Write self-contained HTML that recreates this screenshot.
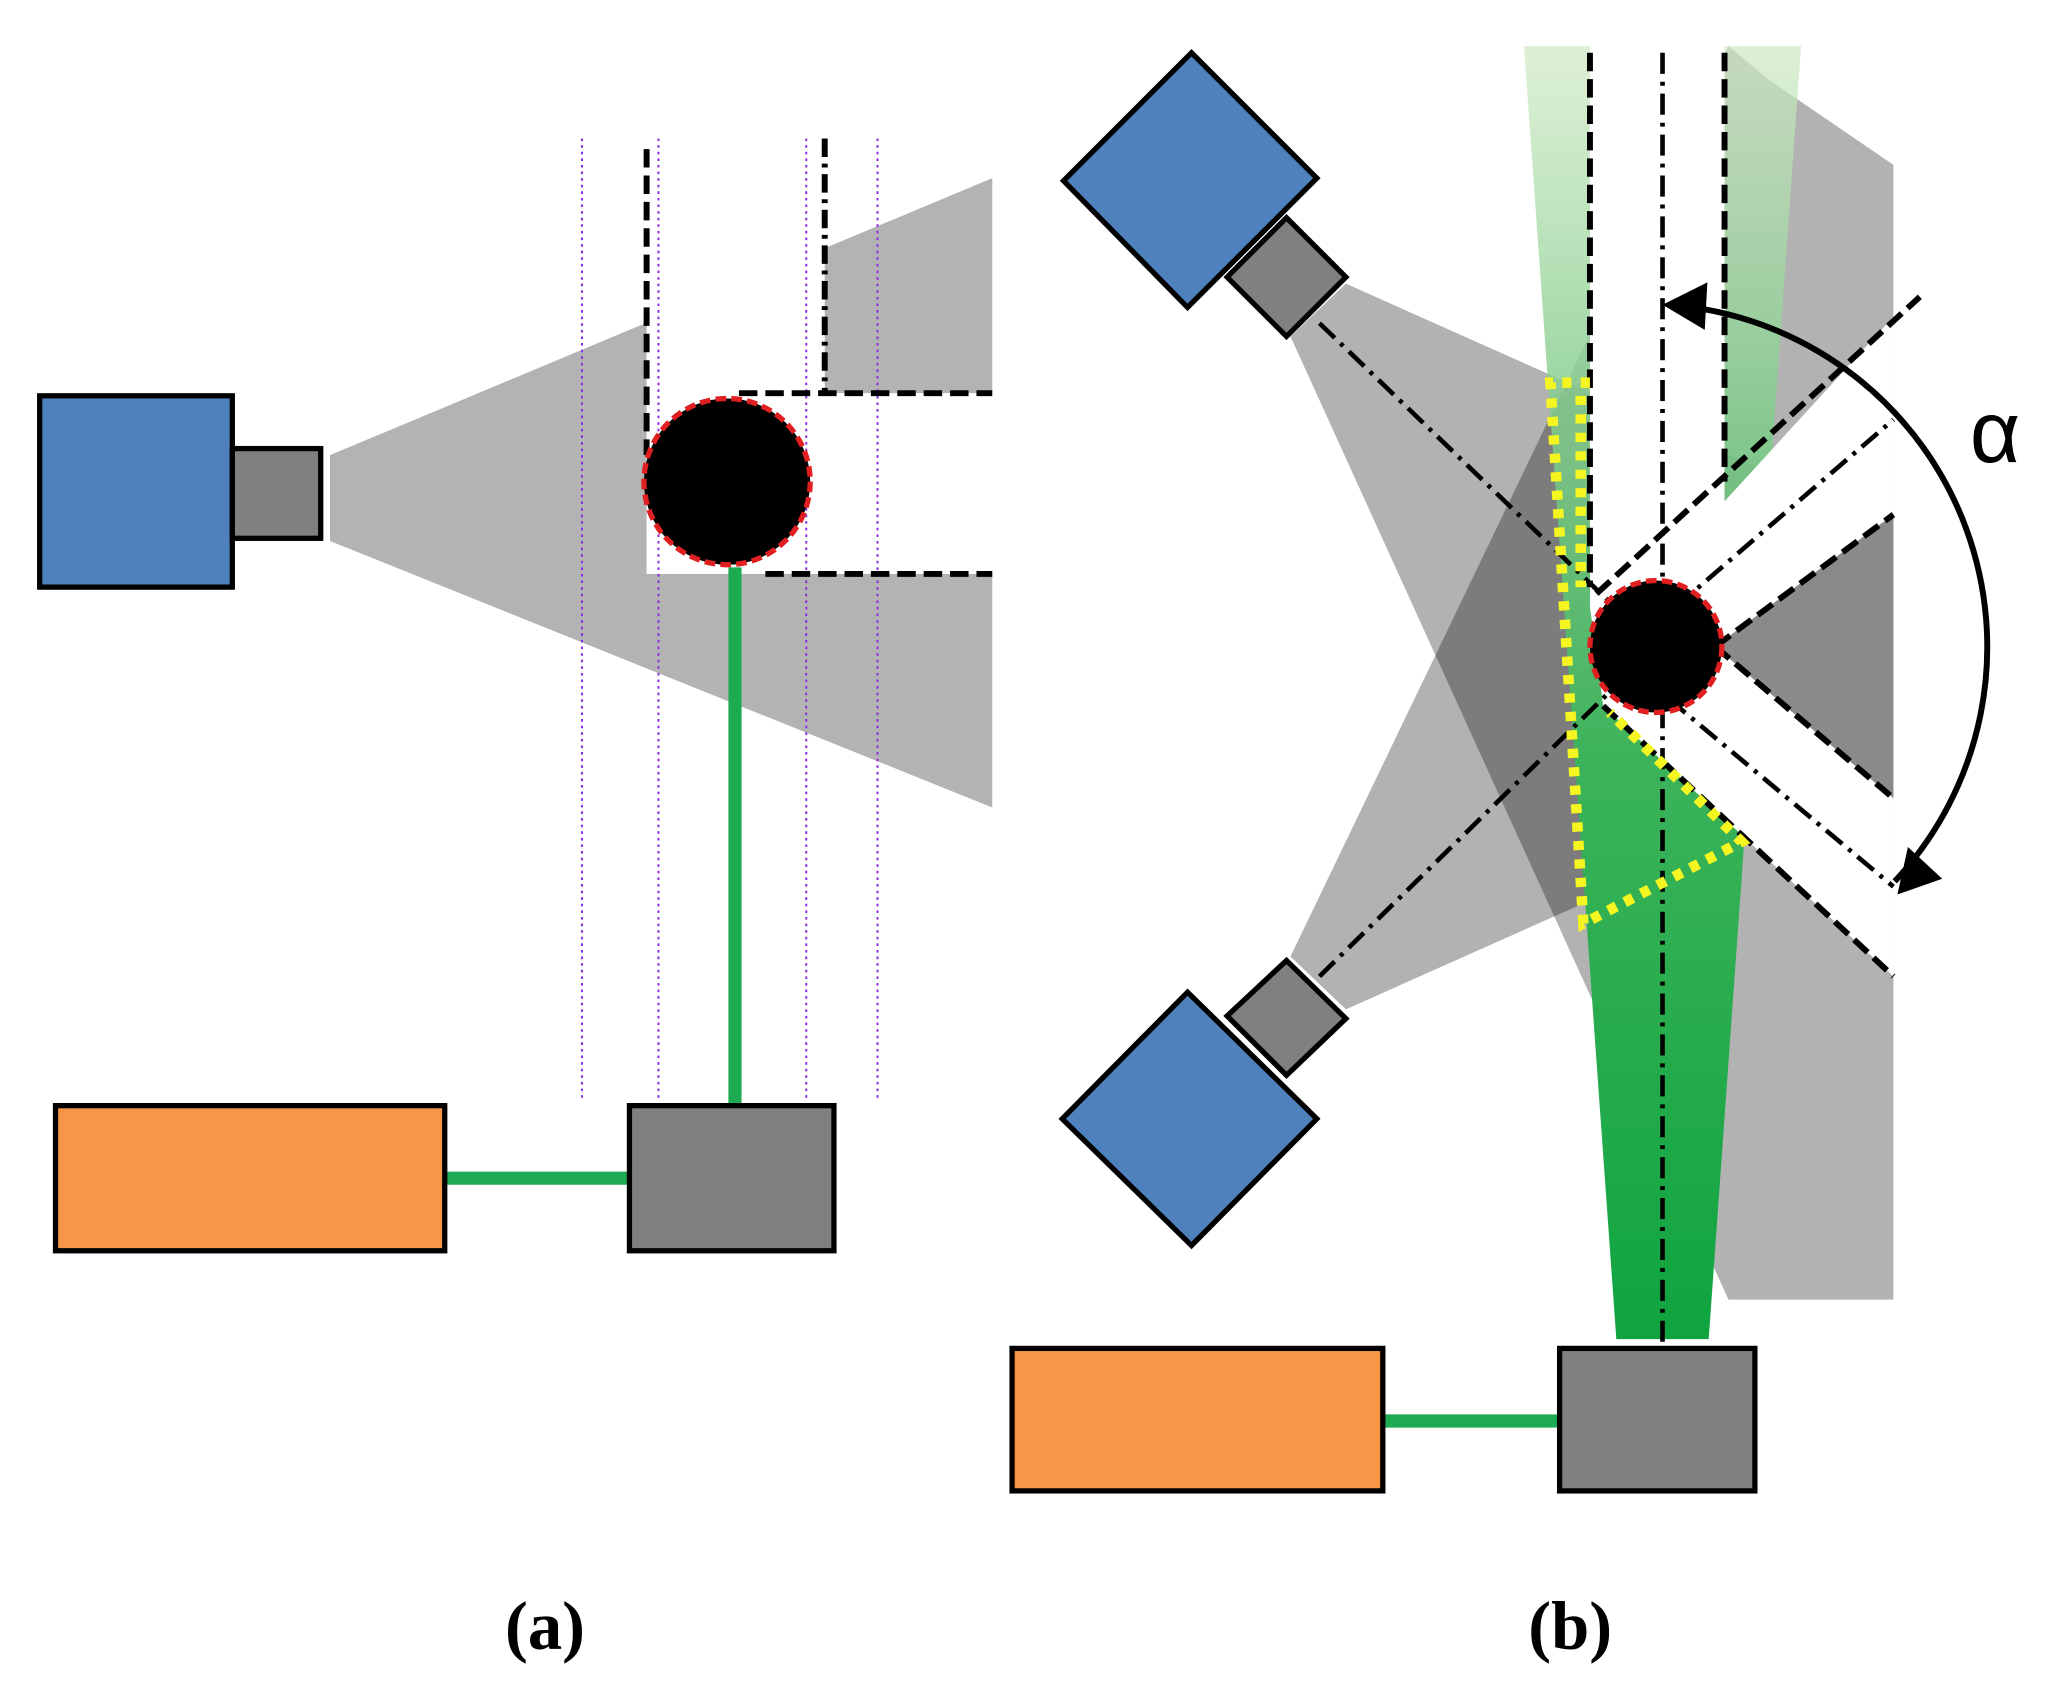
<!DOCTYPE html>
<html><head><meta charset="utf-8"><style>html,body{margin:0;padding:0;background:#fff}svg{display:block}</style></head>
<body>
<svg width="2069" height="1702" viewBox="0 0 1568 1290" xmlns="http://www.w3.org/2000/svg">
<defs>
<linearGradient id="gb" x1="0" y1="1" x2="0" y2="0">
<stop offset="0" stop-color="#0fa43f"/>
<stop offset="0.45" stop-color="#3cb35a"/>
<stop offset="1" stop-color="#cfe9c4" stop-opacity="0.7"/>
</linearGradient>
</defs>
<!-- Panel (a) -->
<polygon points="250,345 752,135 752,612 250,410" fill="#b3b3b3"/>
<rect x="490" y="90" width="135" height="210" fill="#fff"/>
<rect x="490" y="298" width="265" height="137" fill="#fff"/>
<g stroke="#8a2be2" stroke-width="1.5" stroke-dasharray="2 3">
<line x1="441" y1="105" x2="441" y2="835"/>
<line x1="499" y1="105" x2="499" y2="835"/>
<line x1="611" y1="105" x2="611" y2="835"/>
<line x1="665" y1="105" x2="665" y2="835"/>
</g>
<g stroke="#000" stroke-width="4.5" fill="none">
<line x1="490" y1="113" x2="490" y2="345" stroke-dasharray="14 6"/>
<line x1="560" y1="298" x2="752" y2="298" stroke-dasharray="14 6"/>
<line x1="580" y1="435" x2="752" y2="435" stroke-dasharray="14 6"/>
<line x1="625" y1="105" x2="625" y2="298" stroke-dasharray="14 5 3 5"/>
</g>
<line x1="557" y1="430" x2="557" y2="840" stroke="#1daa52" stroke-width="10"/>
<line x1="335" y1="893" x2="478" y2="893" stroke="#1daa52" stroke-width="10"/>
<circle cx="551" cy="365" r="63" fill="#000" stroke="#e02020" stroke-width="4" stroke-dasharray="8 4"/>
<rect x="30" y="300" width="146" height="145" fill="#4f81bd" stroke="#000" stroke-width="4"/>
<rect x="176" y="340" width="67" height="68" fill="#808080" stroke="#000" stroke-width="4"/>
<rect x="42" y="838" width="295" height="110" fill="#f79646" stroke="#000" stroke-width="4"/>
<rect x="477" y="838" width="155" height="110" fill="#808080" stroke="#000" stroke-width="4"/>
<text x="413" y="1250" font-family="Liberation Serif, serif" font-weight="bold" font-size="52" text-anchor="middle">(a)</text>

<!-- Panel (b) -->
<polygon points="978,255 1020,215 1435,400 1435,985 1310,985" fill="#000" fill-opacity="0.3"/>
<polygon points="978,725 1020,765 1435,580 1435,125 1340,60 1310,35" fill="#000" fill-opacity="0.3"/>
<polygon points="1225,1015 1295,1015 1365,35 1155,35" fill="url(#gb)"/>
<polygon points="1205,30 1307,30 1307,380 1435,240 1435,390 1300,490 1435,605 1435,740 1215,535 1205,460" fill="#fff"/>
<polygon points="1300,490 1435,390 1435,605" fill="#8a8a8a"/>
<g stroke="#000" stroke-width="4.5" fill="none">
<line x1="1205" y1="40" x2="1205" y2="445" stroke-dasharray="14 6"/>
<line x1="1307" y1="40" x2="1307" y2="365" stroke-dasharray="14 6"/>
<line x1="1260" y1="40" x2="1260" y2="1022" stroke-width="3.5" stroke-dasharray="16 6 3 6"/>
<line x1="1210" y1="450" x2="1455" y2="225" stroke-dasharray="14 6"/>
<line x1="1300" y1="490" x2="1435" y2="390" stroke-dasharray="14 6"/>
<line x1="1270" y1="460" x2="1435" y2="318" stroke-width="3.5" stroke-dasharray="16 6 3 6"/>
<line x1="1300" y1="490" x2="1435" y2="605" stroke-dasharray="14 6"/>
<line x1="1265" y1="530" x2="1435" y2="672" stroke-width="3.5" stroke-dasharray="16 6 3 6"/>
<line x1="1215" y1="535" x2="1435" y2="740" stroke-dasharray="14 6"/>
<line x1="1000" y1="245" x2="1255" y2="490" stroke-width="3.5" stroke-dasharray="16 6 3 6"/>
<line x1="1000" y1="740" x2="1255" y2="490" stroke-width="3.5" stroke-dasharray="16 6 3 6"/>
</g>
<g stroke="#f5f522" stroke-width="8" fill="none" stroke-dasharray="7 7">
<polyline points="1205,290 1175,290 1200,700 1320,638 1220,540"/>
<line x1="1198" y1="300" x2="1198" y2="445"/>
</g>
<circle cx="1255" cy="490" r="50" fill="#000" stroke="#e02020" stroke-width="4" stroke-dasharray="8 4"/>
<path d="M1275,232 A260,260 0 0 1 1436,668" fill="none" stroke="#000" stroke-width="4.5"/>
<polygon points="1260,231 1294,214 1292,250" fill="#000"/>
<polygon points="1438,678 1446,642 1472,666" fill="#000"/>
<text x="1512" y="350" font-family="Liberation Sans, sans-serif" font-size="66" text-anchor="middle">α</text>
<polygon points="806,137 903,40 998,135 900,233" fill="#4f81bd" stroke="#000" stroke-width="4"/>
<polygon points="930,210 975,165 1020,210 975,255" fill="#808080" stroke="#000" stroke-width="4"/>
<polygon points="805,848 900,752 998,848 903,944" fill="#4f81bd" stroke="#000" stroke-width="4"/>
<polygon points="930,770 975,728 1020,772 975,815" fill="#808080" stroke="#000" stroke-width="4"/>
<line x1="1046" y1="1077" x2="1184" y2="1077" stroke="#1daa52" stroke-width="10"/>
<rect x="767" y="1022" width="281" height="108" fill="#f79646" stroke="#000" stroke-width="4"/>
<rect x="1182" y="1022" width="148" height="108" fill="#808080" stroke="#000" stroke-width="4"/>
<text x="1190" y="1250" font-family="Liberation Serif, serif" font-weight="bold" font-size="52" text-anchor="middle">(b)</text>
</svg>
</body></html>
